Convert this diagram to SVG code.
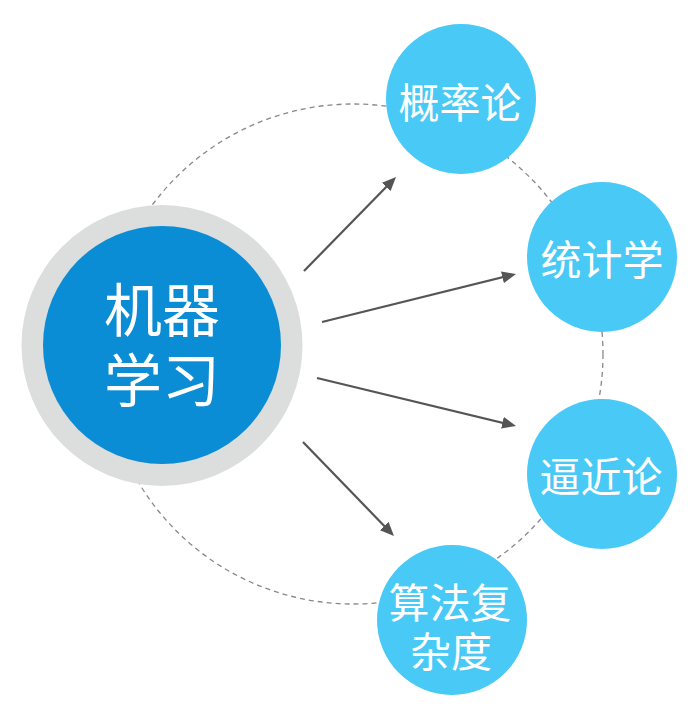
<svg xmlns="http://www.w3.org/2000/svg" width="700" height="714" viewBox="0 0 700 714">
<defs>
<style>
.lbl{font-family:"Noto Sans CJK SC","Noto Sans",sans-serif;fill:#ffffff;text-anchor:middle;dominant-baseline:central;}
.big{font-size:58px;}
.sm{font-size:41px;}
.node{fill:#48C9F6;}
.arrow{stroke:#555555;stroke-width:2.2;fill:none;marker-end:url(#ah);}
</style>
<marker id="ah" viewBox="0 0 14 12" markerWidth="14" markerHeight="12" refX="8" refY="6" orient="auto" markerUnits="userSpaceOnUse">
<path d="M0,0 L14,6 L0,12 z" fill="#555555"/>
</marker>
</defs>
<rect width="700" height="714" fill="#ffffff"/>
<circle cx="353" cy="354" r="250" fill="none" stroke="#888888" stroke-width="1.3" stroke-dasharray="5,4"/>
<g id="connectors">
<line class="arrow" x1="304" y1="271" x2="391.8" y2="181.3"/>
<line class="arrow" x1="322" y1="322" x2="510.2" y2="275.4"/>
<line class="arrow" x1="317" y1="378" x2="510.2" y2="424.6"/>
<line class="arrow" x1="303" y1="442" x2="389.8" y2="531.7"/>
</g>
<g id="ml">
<circle cx="162" cy="345.5" r="140.5" fill="#DCDDDD"/>
<circle cx="162" cy="345" r="119" fill="#0A8DD5"/>
<text class="lbl big" x="162" y="307">机器</text>
<text class="lbl big" x="162" y="377">学习</text>
</g>
<g id="prob">
<circle class="node" cx="461" cy="99" r="75"/>
<text class="lbl sm" x="460" y="100">概率论</text>
</g>
<g id="stat">
<circle class="node" cx="602" cy="257" r="75"/>
<text class="lbl sm" x="602" y="257">统计学</text>
</g>
<g id="approx">
<circle class="node" cx="602" cy="474" r="75"/>
<text class="lbl sm" x="601" y="474">逼近论</text>
</g>
<g id="algo">
<circle class="node" cx="452" cy="620" r="75"/>
<text class="lbl sm" x="450" y="600">算法复</text>
<text class="lbl sm" x="451" y="649">杂度</text>
</g>
</svg>
